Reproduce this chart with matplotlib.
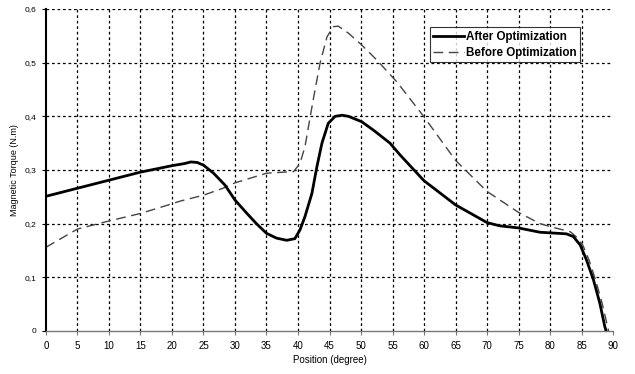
import matplotlib
matplotlib.use("Agg")
import matplotlib.pyplot as plt
import numpy as np

after_x = [0, 5, 10, 15, 20, 22, 23, 24, 25, 26.6, 28.4, 30, 31.9, 33.4, 35, 36.6, 38.2, 39.5, 40.3, 41.1,
           42.2, 43, 43.8, 44.8, 45.9, 47, 48, 50.1, 52, 54.6, 56.2, 60, 65, 70, 72, 75, 78.4, 82.6, 83.7,
           84.8, 85.8, 86.9, 87.9, 88.7, 88.9]
after_y = [0.251, 0.266, 0.281, 0.296, 0.308, 0.312, 0.315, 0.314, 0.309, 0.294, 0.272, 0.244, 0.219, 0.2,
           0.182, 0.173, 0.169, 0.172, 0.188, 0.213, 0.256, 0.306, 0.35, 0.387, 0.4, 0.402, 0.4, 0.39,
           0.374, 0.35, 0.328, 0.28, 0.235, 0.202, 0.196, 0.192, 0.184, 0.181, 0.176, 0.16, 0.132, 0.095,
           0.052, 0.008, 0.0]

before_x = [0, 5, 10, 15, 20, 21.3, 25, 28.1, 30, 35, 39.3, 40.3, 41.1, 42.4, 43.5, 44.6, 45.6, 46.4,
            48, 50.1, 52.5, 55.7, 60, 65, 70, 75, 78.4, 80.5, 83.2, 84.2, 85.2, 86.2, 87.2, 88.2, 89.3]
before_y = [0.156, 0.19, 0.205, 0.219, 0.237, 0.242, 0.253, 0.266, 0.276, 0.294, 0.297, 0.312, 0.343,
            0.43, 0.499, 0.548, 0.567, 0.568, 0.555, 0.533, 0.505, 0.464, 0.399, 0.318, 0.26,
            0.221, 0.2, 0.193, 0.185, 0.175, 0.16, 0.132, 0.096, 0.055, 0.0]

xticks = list(range(0, 95, 5))
yticks = [0, 0.1, 0.2, 0.3, 0.4, 0.5, 0.6]
ytick_labels = ["0", "0,1", "0,2", "0,3", "0,4", "0,5", "0,6"]

plt.rcParams['font.family'] = ['Liberation Sans', 'DejaVu Sans']
fig = plt.figure(figsize=(6.35, 3.74), dpi=100)
ax = fig.add_axes([0.0724, 0.115, 0.893, 0.861])

ax.set_xlim(0, 90)
ax.set_ylim(0, 0.6)

# grid lines
for xv in xticks[1:-1]:
    ax.axvline(xv, color='black', lw=0.9, ls=(0, (2.2, 2.2)), zorder=1)
for yv in yticks[1:]:
    ax.axhline(yv, color='black', lw=0.9, ls=(0, (2.2, 2.2)), zorder=1)

ax.plot(after_x, after_y, color='black', lw=2.0, label='After Optimization', zorder=3,
        solid_joinstyle='round')
ax.plot(before_x, before_y, color='#444444', lw=1.0, ls=(0, (7, 4)), label='Before Optimization', zorder=2)

for s in ['top', 'right']:
    ax.spines[s].set_visible(False)
ax.spines['left'].set_linewidth(1.5)
ax.spines['left'].set_color('black')
ax.spines['bottom'].set_linewidth(1.0)
ax.spines['bottom'].set_color('#777777')

ax.set_xticks(xticks)
ax.set_xticklabels([str(v) for v in xticks])
ax.set_yticks(yticks)
ax.set_yticklabels(ytick_labels)
ax.tick_params(axis='x', labelsize=7, length=3, color='#777777', pad=4)
ax.tick_params(axis='y', labelsize=6, length=3, color='black', pad=4)

ax.set_xlabel('Position (degree)', fontsize=7, labelpad=3)
ax.set_ylabel('Magnetic Torque (N.m)', fontsize=6.5, labelpad=4)

leg = ax.legend(loc='upper left', bbox_to_anchor=(0.677, 0.943),
                prop={'weight': 'bold', 'size': 8.4}, frameon=True, fancybox=False,
                edgecolor='black', borderpad=0.3, handlelength=2.6, handletextpad=0.2,
                labelspacing=0.35, borderaxespad=0)
leg.get_frame().set_linewidth(0.8)

fig.savefig('out.png', dpi=100)
